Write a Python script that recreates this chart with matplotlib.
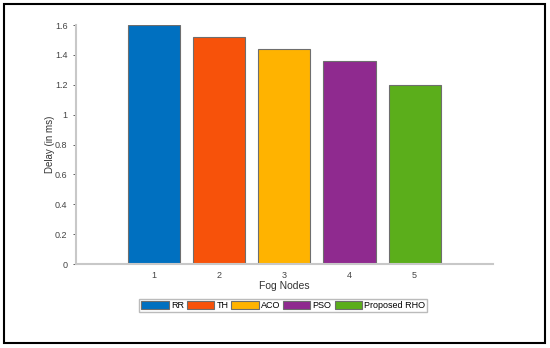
import matplotlib
matplotlib.use("Agg")
import matplotlib.pyplot as plt
from matplotlib.patches import Rectangle

plt.rcParams['font.family'] = ['Liberation Sans', 'DejaVu Sans']

nodes = [1, 2, 3, 4, 5]
delay = [1.6, 1.52, 1.44, 1.36, 1.2]
methods = ['RR', 'TH', 'ACO', 'PSO', 'Proposed RHO']
colors = ['#0070C0', '#F7520A', '#FFB300', '#8F2A8F', '#5BAE1B']

fig = plt.figure(figsize=(5.5, 3.48), dpi=100)
ax = fig.add_axes([0.138, 0.241, 0.758, 0.687])

for x, y, m, c in zip(nodes, delay, methods, colors):
    ax.bar(x, y, width=0.8, color=c, edgecolor='#6e6e6e', linewidth=0.8, label=m)

ax.set_xlim(-0.2, 6.2)
ax.set_ylim(0, 1.6)
ax.set_xticks(nodes)
ax.set_yticks([0, 0.2, 0.4, 0.6, 0.8, 1, 1.2, 1.4, 1.6])
ax.set_yticklabels(['0', '0.2', '0.4', '0.6', '0.8', '1', '1.2', '1.4', '1.6'])
ax.tick_params(labelsize=6.5, colors='#444444', length=2.5, width=0.6)
ax.tick_params(axis='x', length=0, pad=5)
for s in ['top', 'right']:
    ax.spines[s].set_visible(False)
for s in ['left', 'bottom']:
    ax.spines[s].set_color('#c8c8c8')
    ax.spines[s].set_linewidth(1.5)

ax.set_xlabel('Fog Nodes', fontsize=7.5, color='#333333', labelpad=1)
ax.set_ylabel('Delay (in ms)', fontsize=7, color='#333333', labelpad=0)

fig.legend(loc='center', bbox_to_anchor=(0.515, 0.122), ncol=5, fontsize=6.5,
           frameon=True, edgecolor='#aaaaaa', fancybox=False,
           handlelength=3.0, handleheight=0.95, handletextpad=0.25,
           columnspacing=0.35, borderpad=0.25, borderaxespad=0)

fig.patches.append(Rectangle((0.008, 0.013), 0.983, 0.975, transform=fig.transFigure,
                             fill=False, edgecolor='black', linewidth=1.5))

fig.savefig('out.png', dpi=100)
